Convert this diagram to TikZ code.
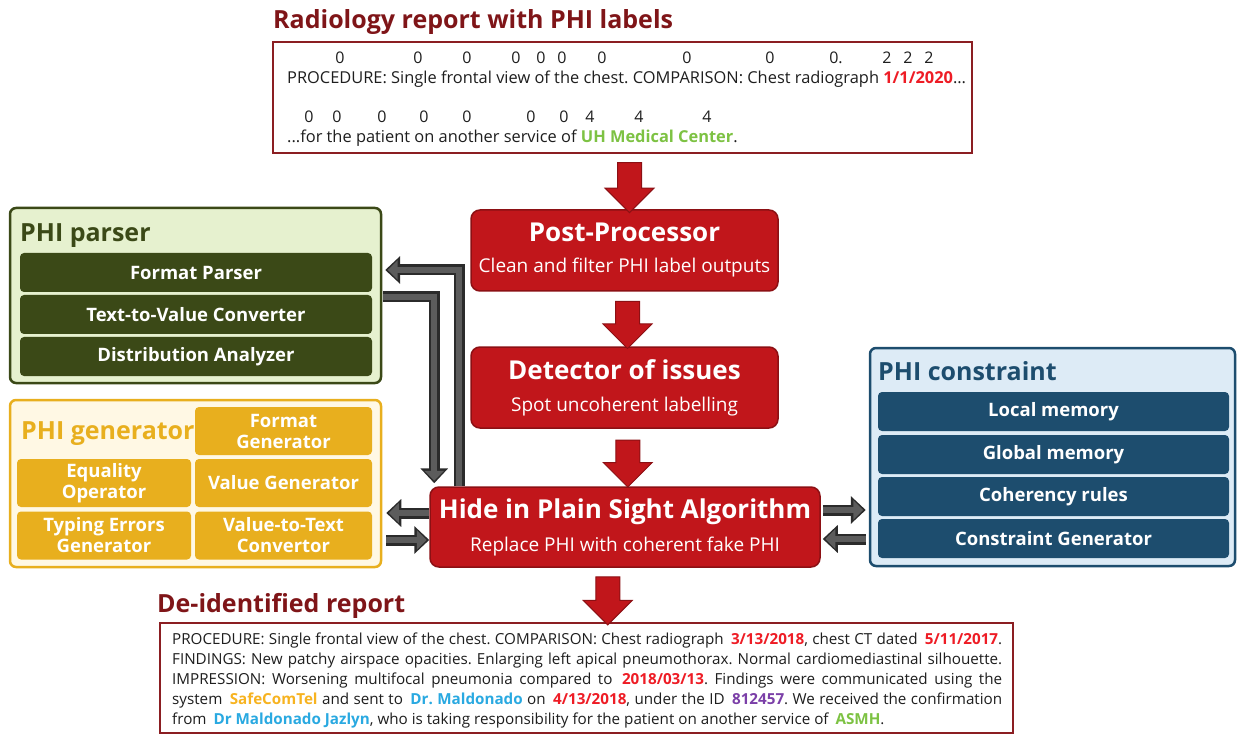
\documentclass[tikz,border=0pt]{standalone}
\usepackage{fontspec}
\setmainfont{Open Sans}
\usetikzlibrary{shapes.arrows,arrows.meta,calc}

\definecolor{hdred}{HTML}{7F1518}
\definecolor{boxred}{HTML}{C1161B}
\definecolor{boxredline}{HTML}{8C1014}
\definecolor{framered}{HTML}{8B1E22}
\definecolor{phired}{HTML}{EE1C25}
\definecolor{phigreen}{HTML}{7DC243}
\definecolor{phiorange}{HTML}{F7B320}
\definecolor{phiblue}{HTML}{29A9E1}
\definecolor{phipurple}{HTML}{7B3FA8}
\definecolor{parsefill}{HTML}{E6F1CF}
\definecolor{parsedark}{HTML}{3B4917}
\definecolor{genfill}{HTML}{FFF8E4}
\definecolor{gengold}{HTML}{E8AF1E}
\definecolor{confill}{HTML}{DDEBF6}
\definecolor{condark}{HTML}{1D4D6E}
\definecolor{gdark}{HTML}{2B2B2B}
\definecolor{glight}{HTML}{5C5C5C}
\definecolor{txt}{HTML}{1E1E1E}

\newcommand\fsz[2]{\fontsize{#1}{#2}\selectfont}
% highlighted PHI value inside a report
\newcommand\tg[2]{\hspace{3pt}\textcolor{#1}{\bfseries #2}}
\frenchspacing

\begin{document}
\begin{tikzpicture}[x=1pt,y=-1pt,
  redbox/.style={draw=boxredline, fill=boxred, line width=1.5pt, rounded corners=9pt, inner sep=0},
  redtitle/.style={text=white, font=\fsz{26}{30}\bfseries, inner sep=0, anchor=base},
  redsub/.style={text=white, font=\fsz{19}{22}, inner sep=0, anchor=base},
  downarrow/.style={single arrow, shape border rotate=270, fill=boxred, draw=boxredline,
    line width=1pt, inner sep=11.5pt, single arrow head extend=12.5pt, minimum height=#1},
  framebox/.style={draw=framered, line width=2pt, fill=white, inner sep=0},
  heading/.style={font=\fsz{25}{29}\bfseries, inner sep=0, anchor=base west},
  grpbox/.style={rounded corners=6pt, line width=2.5pt, inner sep=0},
  bar/.style={rounded corners=4pt, inner sep=0, text=white, font=\fsz{18.5}{21}\bfseries, align=center},
  rep/.style={font=\fsz{15.2}{20}, text=txt, inner sep=0},
  toprep/.style={font=\fsz{16.4}{20}, text=txt, inner sep=0, anchor=base west},
  lbl/.style={font=\fsz{16}{18}, text=txt, inner sep=0, anchor=base},
  garrow/.style={draw=gdark, line width=11pt, line join=miter,
    -{Triangle[width=27pt,length=15pt]},
    postaction={draw=glight, line width=6pt, line join=miter,
      -{Triangle[width=19pt,length=10pt]}, shorten >=2.5pt}}
]
\useasboundingbox (0,0) rectangle (1237,735);

% ---------- input report ----------
\node[heading, text=hdred] (intitle) at (273,29) {Radiology report with PHI labels};
\node[framebox, minimum width=699pt, minimum height=111pt] (topbox) at (622.5,97.5) {};
\foreach \x/\t [count=\i] in {340/0,418/0,467/0,516/0,541/0,562/0,602/0,687/0,770/0,836/0.,887/2,908/2,929/2}
  \node[lbl] (la\i) at (\x,64) {\t};
\node[toprep] (inline1) at (287,84)
  {PROCEDURE: Single frontal view of the chest. COMPARISON: Chest radiograph \textcolor{phired}{\bfseries 1/1/2020}...};
\foreach \x/\t [count=\i] in {309/0,337/0,382/0,424/0,467/0,531/0,564/0,590/4,639/4,707/4}
  \node[lbl] (lb\i) at (\x,123) {\t};
\node[toprep] (inline2) at (287,143)
  {...for the patient on another service of \textcolor{phigreen}{\bfseries UH Medical Center}.};

% ---------- processing pipeline ----------
\node[redbox, minimum width=307pt, minimum height=81pt] (post) at (624.5,250.5) {};
\node[redtitle] (posttitle) at (624.5,242) {Post-Processor};
\node[redsub] (postsub) at (624.5,273) {Clean and filter PHI label outputs};

\node[redbox, minimum width=307pt, minimum height=81pt] (det) at (624.5,387.5) {};
\node[redtitle] (dettitle) at (624.5,379) {Detector of issues};
\node[redsub] (detsub) at (624.5,411) {Spot uncoherent labelling};

\node[redbox, minimum width=390pt, minimum height=80pt] (hide) at (625,527) {};
\node[redtitle] (hidetitle) at (625,518) {Hide in Plain Sight Algorithm};
\node[redsub] (hidesub) at (625,551) {Replace PHI with coherent fake PHI};

% ---------- PHI parser ----------
\node[grpbox, draw=parsedark, fill=parsefill, minimum width=371pt, minimum height=175pt] (parser) at (195.5,295.5) {};
\node[heading, text=parsedark] (parsertitle) at (20,242) {PHI parser};
\node[bar, fill=parsedark, minimum width=352pt, minimum height=39pt] (fp) at (196,272.5) {Format Parser};
\node[bar, fill=parsedark, minimum width=352pt, minimum height=39pt] (tv) at (196,314.5) {Text-to-Value Converter};
\node[bar, fill=parsedark, minimum width=352pt, minimum height=39pt] (da) at (196,356.5) {Distribution Analyzer};

% ---------- PHI generator ----------
\node[grpbox, draw=gengold, fill=genfill, minimum width=371pt, minimum height=167pt] (gen) at (195.5,483.5) {};
\node[heading, text=gengold] (gentitle) at (21,439) {PHI generator};
\node[bar, fill=gengold, minimum width=177pt, minimum height=48pt] (fg) at (283.5,431) {Format\\Generator};
\node[bar, fill=gengold, minimum width=174pt, minimum height=48pt] (eo) at (104,483) {Equality\\Operator};
\node[bar, fill=gengold, minimum width=177pt, minimum height=48pt] (vg) at (283.5,483) {Value Generator};
\node[bar, fill=gengold, minimum width=174pt, minimum height=48pt] (te) at (104,535.5) {Typing Errors\\Generator};
\node[bar, fill=gengold, minimum width=177pt, minimum height=48pt] (vt) at (283.5,535.5) {Value-to-Text\\Convertor};

% ---------- PHI constraint ----------
\node[grpbox, draw=condark, fill=confill, minimum width=365pt, minimum height=218pt] (con) at (1052.5,457) {};
\node[heading, text=condark] (contitle) at (878,381) {PHI constraint};
\node[bar, fill=condark, minimum width=351pt, minimum height=39pt] (lm) at (1053.5,411.5) {Local memory};
\node[bar, fill=condark, minimum width=351pt, minimum height=39pt] (gm) at (1053.5,454.5) {Global memory};
\node[bar, fill=condark, minimum width=351pt, minimum height=39pt] (cr) at (1053.5,496.5) {Coherency rules};
\node[bar, fill=condark, minimum width=351pt, minimum height=39pt] (cg) at (1053.5,538.5) {Constraint Generator};

% ---------- output report ----------
\node[heading, text=hdred] (outtitle) at (157,612) {De-identified report};
\node[framebox, minimum width=853pt, minimum height=110pt] (botbox) at (586.5,678) {};
\node[rep, text width=830pt, align=justify, anchor=north west] (outtext) at (172,633)
  {PROCEDURE: Single frontal view of the chest. COMPARISON: Chest radiograph \tg{phired}{3/13/2018}, chest CT dated \tg{phired}{5/11/2017}.\linebreak
   FINDINGS: New patchy airspace opacities. Enlarging left apical pneumothorax. Normal cardiomediastinal silhouette.\linebreak
   IMPRESSION: Worsening multifocal pneumonia compared to \tg{phired}{2018/03/13}. Findings were communicated using the\linebreak
   system \tg{phiorange}{SafeComTel} and sent to \tg{phiblue}{Dr. Maldonado} on \tg{phired}{4/13/2018}, under the ID \tg{phipurple}{812457}. We received the confirmation\linebreak
   from \tg{phiblue}{Dr Maldonado Jazlyn}, who is taking responsibility for the patient on another service of \tg{phigreen}{ASMH}.};

% ---------- flow arrows between stages ----------
\node[downarrow=50pt] (d1) at ($(topbox.south)!0.5!(post.north)+(6,0)$) {};
\node[downarrow=47pt] (d2) at ($(post.south)!0.5!(det.north)+(3,0)$) {};
\node[downarrow=47pt] (d3) at ($(det.south)!0.5!(hide.north)+(3,0)$) {};
\node[downarrow=48pt] (d4) at ($(hide.south)!0.5!(botbox.north)+(2,0)$) {};

% ---------- exchanges with the side modules ----------
\coordinate (a1s) at ($(hide.north west)+(30,0)$);
\coordinate (a1e) at ($(fp.east)+(13,-2.5)$);
\draw[garrow] (a1s) |- (a1e);
\coordinate (a2s) at ($(parser.east)+(1,1.5)$);
\coordinate (a2e) at ($(hide.north west)+(5,-3)$);
\draw[garrow] (a2s) -| (a2e);

\coordinate (a3s) at ($(hide.west)+(0,-14)$);
\coordinate (a3e) at ($(gen.east)+(4,0)$);
\draw[garrow] (a3s) -- (a3s -| a3e);
\coordinate (a4s) at ($(gen.east)+(4,56.5)$);
\draw[garrow] (a4s) -- (a4s -| hide.west);

\coordinate (a5s) at ($(hide.east)+(2,-17)$);
\draw[garrow] (a5s) -- ($(a5s -| con.west)+(-3,0)$);
\coordinate (a6s) at ($(con.west)+(-3,82)$);
\draw[garrow] (a6s) -- ($(a6s -| hide.east)+(2,0)$);
\end{tikzpicture}
\end{document}
